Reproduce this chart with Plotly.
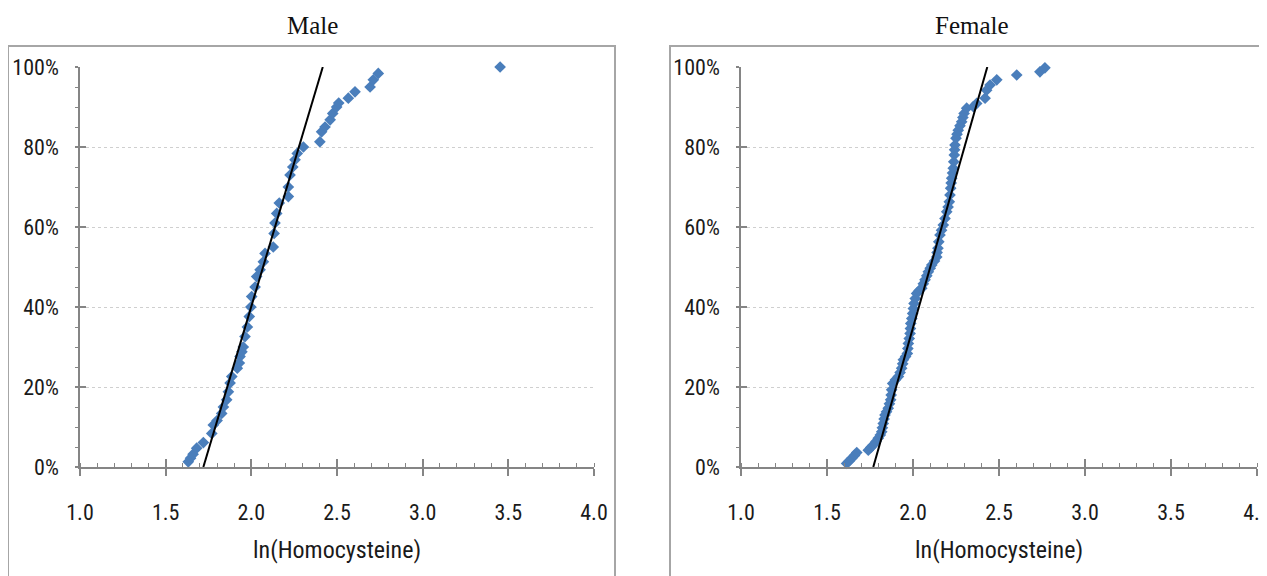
import plotly.graph_objects as go

# ---------------- data ----------------
male_x = [1.632, 1.645, 1.66, 1.681, 1.72, 1.769, 1.778, 1.80, 1.827, 1.837, 1.856, 1.866,
          1.876, 1.886, 1.918, 1.93, 1.934, 1.945, 1.953, 1.963, 1.977, 1.988, 1.997, 2.002,
          2.022, 2.031, 2.051, 2.07, 2.08, 2.128, 2.133, 2.138, 2.148, 2.163, 2.216, 2.216,
          2.226, 2.242, 2.255, 2.268, 2.304, 2.40, 2.41, 2.43, 2.46, 2.475, 2.498, 2.51,
          2.566, 2.605, 2.693, 2.712, 2.741, 3.452]
male_p = [1.3, 2.2, 3.2, 4.7, 6.1, 8.4, 10.5, 11.6, 13.4, 15.0, 16.8, 18.8,
          21.0, 22.6, 24.7, 26.0, 27.6, 28.8, 30.0, 32.6, 35.0, 37.6, 40.0, 42.6,
          45.0, 47.6, 49.3, 51.3, 53.4, 55.0, 58.4, 61.0, 63.4, 66.0, 67.6, 70.0,
          73.0, 75.0, 76.8, 78.4, 80.0, 81.3, 83.8, 85.0, 86.8, 88.4, 90.0, 91.0,
          92.2, 93.8, 95.0, 96.8, 98.4, 100.0]

female_x = [1.614, 1.63, 1.644, 1.66, 1.673, 1.74, 1.755, 1.769, 1.785, 1.798, 1.81, 1.818,
            1.822, 1.827, 1.832, 1.837, 1.846, 1.856, 1.863, 1.87, 1.873, 1.876, 1.882, 1.898,
            1.915, 1.925, 1.934, 1.94, 1.944, 1.957, 1.967, 1.97, 1.973, 1.978, 1.983, 1.985,
            1.987, 1.993, 1.998, 2.002, 2.006, 2.013, 2.021, 2.036, 2.051, 2.06, 2.07, 2.08,
            2.089, 2.10, 2.109, 2.125, 2.138, 2.14, 2.145, 2.15, 2.157, 2.166, 2.176, 2.186,
            2.196, 2.204, 2.211, 2.215, 2.219, 2.222, 2.225, 2.23, 2.234, 2.237, 2.24, 2.242,
            2.244, 2.25, 2.256, 2.263, 2.273, 2.283, 2.29, 2.297, 2.312, 2.351, 2.37, 2.419,
            2.428, 2.448, 2.487, 2.603, 2.738, 2.767]
female_p = [0.9, 1.5, 2.2, 2.9, 3.6, 4.2, 4.9, 5.5, 6.4, 7.2, 8.0, 8.8,
            9.8, 10.9, 12.0, 13.0, 13.8, 14.7, 15.8, 16.8, 18.0, 19.3, 20.9, 21.8,
            22.6, 23.6, 24.7, 25.8, 26.8, 27.6, 28.4, 29.6, 30.9, 32.1, 33.4, 34.6,
            35.9, 37.1, 38.4, 39.6, 40.9, 42.1, 43.4, 44.1, 44.7, 45.8, 46.8, 47.8,
            48.8, 49.7, 50.5, 51.5, 52.5, 53.6, 54.7, 56.3, 58.0, 59.2, 60.5, 62.1,
            63.8, 65.0, 66.3, 68.0, 69.7, 71.0, 72.2, 73.5, 74.7, 76.3, 78.0, 79.3,
            80.5, 82.2, 83.2, 84.2, 85.3, 86.3, 87.4, 88.4, 89.7, 90.1, 90.9, 92.2,
            94.2, 95.5, 96.8, 98.0, 98.8, 99.8]

male_line_x = [1.72, 2.417]
female_line_x = [1.769, 2.432]
line_p = [0, 100]

titles = ["Male", "Female"]
x_title = "ln(Homocysteine)"
y_tickvals = [0, 20, 40, 60, 80, 100]
y_ticktext = ["0%", "20%", "40%", "60%", "80%", "100%"]
x_tickvals = [1.0, 1.5, 2.0, 2.5, 3.0, 3.5, 4.0]
x_ticktext = ["1.0", "1.5", "2.0", "2.5", "3.0", "3.5", "4.0"]

# ---------------- layout geometry ----------------
OFF = 8                      # page body margin of the browser
W, H = 1267 - OFF, 576 - OFF  # figure size
def px(v):
    return (v - OFF) / W
def py(v):
    return 1 - (v - OFF) / H

blue = "#4a7ebb"
axis_col = "#858585"
grid_col = "#cfcfcf"
narrow = "Roboto Condensed, Liberation Sans Narrow, Arial Narrow, DejaVu Sans Condensed, Roboto, Arial"
tick_font = dict(family=narrow, size=22, color="#1a1a1a")

fig = go.Figure()

panels = [
    dict(xs=male_x, ps=male_p, lx=male_line_x, xa="x", ya="y", xin="x3", yin="y3",
         dom=[px(80), px(594)], box=[8, 615], tx=312),
    dict(xs=female_x, ps=female_p, lx=female_line_x, xa="x2", ya="y2", xin="x4", yin="y4",
         dom=[px(741), px(1257)], box=[670, 1285], tx=972),
]
ydom = [py(467), py(67)]

for i, p in enumerate(panels):
    fig.add_trace(go.Scatter(x=p["xs"], y=p["ps"], mode="markers", xaxis=p["xa"], yaxis=p["ya"],
                             marker=dict(symbol="diamond", size=9, color=blue, line=dict(width=0)),
                             cliponaxis=False, showlegend=False, hoverinfo="skip"))
    fig.add_trace(go.Scatter(x=p["lx"], y=line_p, mode="lines", xaxis=p["xa"], yaxis=p["ya"],
                             line=dict(color="black", width=2), showlegend=False, hoverinfo="skip"))
    fig.add_trace(go.Scatter(x=[None], y=[None], xaxis=p["xin"], yaxis=p["yin"], showlegend=False))

    suf = "" if i == 0 else "2"
    sin = "3" if i == 0 else "4"
    fig.layout["xaxis" + suf] = dict(
        domain=p["dom"], range=[1, 4], anchor=p["ya"], showgrid=False, zeroline=False,
        showline=True, linecolor=axis_col, linewidth=1.5,
        tickvals=x_tickvals, ticktext=x_ticktext, ticks="outside", ticklen=7, tickwidth=1.5,
        tickcolor=axis_col, tickfont=tick_font, ticklabelstandoff=18, ticklabeloverflow="allow",
        minor=dict(ticks="inside", dtick=0.1, ticklen=4, tickwidth=1, tickcolor=axis_col, showgrid=False),
        automargin=False, fixedrange=True)
    fig.layout["yaxis" + suf] = dict(
        domain=ydom, range=[0, 100], anchor=p["xa"], showgrid=True, gridcolor=grid_col,
        griddash="dot", gridwidth=1, zeroline=False,
        showline=True, linecolor=axis_col, linewidth=1.5,
        tickvals=y_tickvals, ticktext=y_ticktext, ticks="outside", ticklen=3, tickwidth=1.5,
        tickcolor=axis_col, tickfont=tick_font, ticklabelstandoff=12, ticklabeloverflow="allow",
        minor=dict(ticks="outside", dtick=5, ticklen=3, tickwidth=1, tickcolor=axis_col, showgrid=False),
        automargin=False, fixedrange=True)
    fig.layout["xaxis" + sin] = dict(
        domain=p["dom"], range=[1, 4], anchor=p["yin"], overlaying=p["xa"], showgrid=False,
        zeroline=False, showline=False, tickvals=x_tickvals, ticks="inside", ticklen=8,
        tickwidth=1.5, tickcolor=axis_col, showticklabels=False, automargin=False)
    fig.layout["yaxis" + sin] = dict(
        domain=ydom, range=[0, 100], anchor=p["xin"], overlaying=p["ya"], showgrid=False,
        zeroline=False, showline=False, tickvals=y_tickvals, ticks="inside", ticklen=6,
        tickwidth=1.5, tickcolor=axis_col, showticklabels=False, automargin=False)

    fig.add_shape(type="rect", xref="paper", yref="paper",
                  x0=px(p["box"][0]), x1=px(p["box"][1]), y0=py(600), y1=py(46),
                  line=dict(color="#a6a6a6", width=2), fillcolor="rgba(0,0,0,0)", layer="below")
    fig.add_annotation(text=titles[i], xref="paper", yref="paper", x=px(p["tx"]), y=py(26),
                       showarrow=False, xanchor="center", yanchor="middle",
                       font=dict(family="Liberation Serif, Times New Roman, serif", size=25, color="#111"))
    fig.add_annotation(text=x_title, xref="paper", yref="paper",
                       x=(p["dom"][0] + p["dom"][1]) / 2, y=py(550),
                       showarrow=False, xanchor="center", yanchor="middle",
                       font=dict(family=narrow, size=24, color="#1a1a1a"))

fig.update_layout(width=W, height=H, margin=dict(l=0, r=0, t=0, b=0),
                  paper_bgcolor="white", plot_bgcolor="white", showlegend=False)

fig.write_html("out.html")
